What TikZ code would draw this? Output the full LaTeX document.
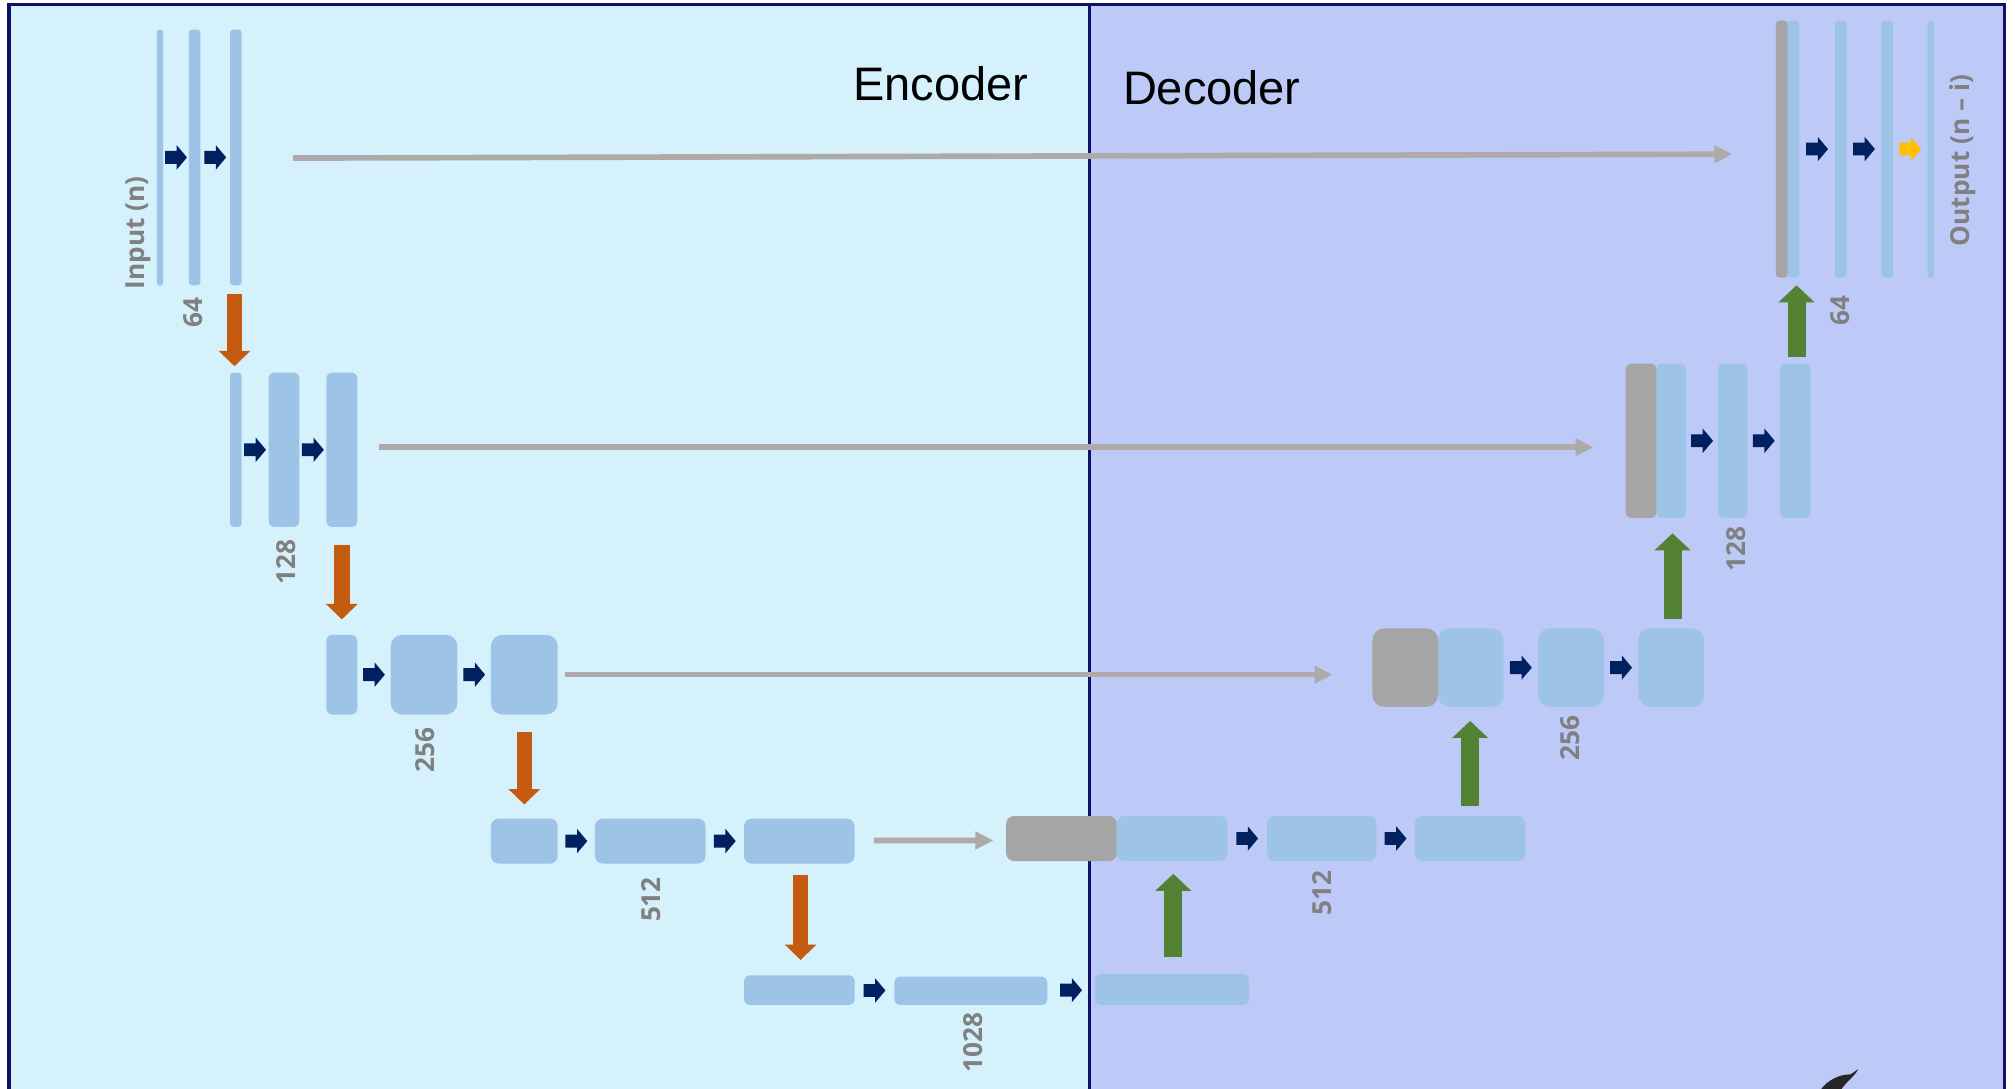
\documentclass[tikz,border=0pt]{standalone}
\usepackage{fontspec}
\setmainfont{Liberation Sans}
\newfontfamily\lblfont{Open Sans}
\usetikzlibrary{calc,fit,arrows.meta}

\definecolor{encbg}{RGB}{213,241,251}
\definecolor{decbg}{RGB}{189,202,248}
\definecolor{frame}{RGB}{16,16,104}
\definecolor{blockblue}{RGB}{157,195,230}
\definecolor{blockgray}{RGB}{165,165,165}
\definecolor{navyarr}{RGB}{0,32,96}
\definecolor{yelarr}{RGB}{255,192,0}
\definecolor{downarr}{RGB}{197,90,17}
\definecolor{uparr}{RGB}{84,130,53}
\definecolor{skipgray}{RGB}{174,170,170}
\definecolor{lblgray}{RGB}{128,128,128}

\tikzset{
  blk/.style={fill=blockblue, draw=none, inner sep=0pt, outer sep=0pt},
  gblk/.style={fill=blockgray, draw=none, inner sep=0pt, outer sep=0pt},
  skiparrow/.style={draw=skipgray, line width=0.11cm, -{Triangle[width=0.33cm,length=0.35cm]}},
  poolarrow/.style={draw=downarr, line width=0.3cm, -{Triangle[width=0.6cm,length=0.3cm]}},
  uparrow/.style={draw=uparr, line width=0.35cm, -{Triangle[width=0.68cm,length=0.33cm]}},
  sizelbl/.style={text=lblgray, font=\lblfont\bfseries\fontsize{14.5pt}{16pt}\selectfont, rotate=90, inner sep=0pt},
  parttitle/.style={text=black, font=\fontsize{26pt}{30pt}\selectfont, inner sep=0pt}
}

% small block arrow between two neighbouring blocks
\newcommand\convarrow[3]{%
  \fill[#3] ($(#1.east)!0.5!(#2.west)$) ++(-8.5,-5) -- ++(9,0) -- ++(0,-4.5)
    -- ++(8,9.5) -- ++(-8,9.5) -- ++(0,-4.5) -- ++(-9,0) -- cycle;}

\begin{document}
\begin{tikzpicture}[x=0.025cm, y=-0.025cm]
\useasboundingbox (0,0) rectangle (1568,847);
\clip (0,0) rectangle (1568,847);
\fill[white] (0,0) rectangle (1568,847);

% panels
\fill[encbg] (7,3.5) rectangle (847.5,860);
\fill[decbg] (847.5,3.5) rectangle (1560,860);
\draw[frame, line width=0.06cm] (847.5,3.5) -- (847.5,860);
\draw[frame, line width=0.06cm] (7,860) -- (7,3.5) -- (1560,3.5) -- (1560,860);

\node[parttitle] (enctitle) at (732,65) {Encoder};
\node[parttitle] (dectitle) at (943,68) {Decoder};

% ---------------- encoder ----------------
% level 1 (64)
\node[blk, rounded corners=1.5*0.025cm, fit={(122,23)(127,222)}] (e1a) {};
\node[blk, rounded corners=2.5*0.025cm, fit={(147,23)(156,222)}] (e1b) {};
\node[blk, rounded corners=2.5*0.025cm, fit={(179,23)(188,222)}] (e1c) {};
% level 2 (128)
\node[blk, rounded corners=2.5*0.025cm, fit={(179,290)(188,410)}] (e2a) {};
\node[blk, rounded corners=4*0.025cm, fit={(209,290)(233,410)}] (e2b) {};
\node[blk, rounded corners=4*0.025cm, fit={(254,290)(278,410)}] (e2c) {};
% level 3 (256)
\node[blk, rounded corners=4*0.025cm, fit={(254,494)(278,556)}] (e3a) {};
\node[blk, rounded corners=9*0.025cm, fit={(304,494)(356,556)}] (e3b) {};
\node[blk, rounded corners=9*0.025cm, fit={(382,494)(434,556)}] (e3c) {};
% level 4 (512)
\node[blk, rounded corners=6*0.025cm, fit={(382,637)(434,672)}] (e4a) {};
\node[blk, rounded corners=6*0.025cm, fit={(463,637)(549,672)}] (e4b) {};
\node[blk, rounded corners=6*0.025cm, fit={(579,637)(665,672)}] (e4c) {};
% level 5 (1028)
\node[blk, rounded corners=4*0.025cm, fit={(579,759)(665,782)}] (e5a) {};
\node[blk, rounded corners=4*0.025cm, fit={(696,760)(815,782)}] (e5b) {};

% ---------------- decoder ----------------
\node[blk, rounded corners=4*0.025cm, fit={(852,758)(972,782)}] (d5a) {};
% level 4
\node[blk, rounded corners=6*0.025cm, fit={(869,635)(955,670)}] (d4b) {};
\node[gblk, rounded corners=6*0.025cm, fit={(783,635)(869,670)}] (d4g) {};
\node[blk, rounded corners=6*0.025cm, fit={(986,635)(1071,670)}] (d4c) {};
\node[blk, rounded corners=6*0.025cm, fit={(1101,635)(1187,670)}] (d4d) {};
% level 3
\node[blk, rounded corners=9*0.025cm, fit={(1119,489)(1170,550)}] (d3b) {};
\node[gblk, rounded corners=9*0.025cm, fit={(1068,489)(1119,550)}] (d3g) {};
\node[blk, rounded corners=9*0.025cm, fit={(1197,489)(1248,550)}] (d3c) {};
\node[blk, rounded corners=9*0.025cm, fit={(1275,489)(1326,550)}] (d3d) {};
% level 2
\node[blk, rounded corners=4*0.025cm, fit={(1289,283)(1312,403)}] (d2b) {};
\node[gblk, rounded corners=4*0.025cm, fit={(1265,283)(1289,403)}] (d2g) {};
\node[blk, rounded corners=4*0.025cm, fit={(1337,283)(1360,403)}] (d2c) {};
\node[blk, rounded corners=4*0.025cm, fit={(1385,283)(1409,403)}] (d2d) {};
% level 1
\node[blk, rounded corners=2.5*0.025cm, fit={(1391,16)(1400,216)}] (d1b) {};
\node[gblk, rounded corners=2.5*0.025cm, fit={(1382,16)(1391,216)}] (d1g) {};
\node[blk, rounded corners=2.5*0.025cm, fit={(1428,16)(1437,216)}] (d1c) {};
\node[blk, rounded corners=2.5*0.025cm, fit={(1464,16)(1473,216)}] (d1d) {};
\node[blk, rounded corners=1.5*0.025cm, fit={(1500,16)(1505,216)}] (d1e) {};

% convolution arrows
\convarrow{e1a}{e1b}{navyarr}
\convarrow{e1b}{e1c}{navyarr}
\convarrow{e2a}{e2b}{navyarr}
\convarrow{e2b}{e2c}{navyarr}
\convarrow{e3a}{e3b}{navyarr}
\convarrow{e3b}{e3c}{navyarr}
\convarrow{e4a}{e4b}{navyarr}
\convarrow{e4b}{e4c}{navyarr}
\convarrow{e5a}{e5b}{navyarr}
\convarrow{e5b}{d5a}{navyarr}
\convarrow{d4b}{d4c}{navyarr}
\convarrow{d4c}{d4d}{navyarr}
\convarrow{d3b}{d3c}{navyarr}
\convarrow{d3c}{d3d}{navyarr}
\convarrow{d2b}{d2c}{navyarr}
\convarrow{d2c}{d2d}{navyarr}
\convarrow{d1b}{d1c}{navyarr}
\convarrow{d1c}{d1d}{navyarr}
\convarrow{d1d}{d1e}{yelarr}

% skip connections
\draw[skiparrow] ($(e1c.east)+(40,0.5)$) -- ($(d1g.west)+(-34,4)$);
\draw[skiparrow] ($(e2c.east)+(17,-2)$) -- ($(d2g.west)+(-25,5)$);
\draw[skiparrow] ($(e3c.east)+(6,0)$) -- ($(d3g.west)+(-31,5.5)$);
\draw[skiparrow] ($(e4c.east)+(15,-0.5)$) -- ($(d4g.west)+(-10,1.5)$);

% down-sampling
\draw[poolarrow] ($(e1c.south)+(-1,7)$) -- ($(e1c.south |- e2a.north)+(-1,-5)$);
\draw[poolarrow] ($(e2c.south)+(0,14)$) -- ($(e2c.south |- e3a.north)+(0,-12)$);
\draw[poolarrow] ($(e3c.south)+(0,14)$) -- ($(e3c.south |- e4a.north)+(0,-11)$);
\draw[poolarrow] ($(e4c.south)+(1,9)$) -- ($(e4c.south |- e5a.north)+(1,-12)$);

% up-sampling
\draw[uparrow] ($(d5a.north)+(1,-13)$) -- ($(d5a.north |- d4b.south)+(1,10)$);
\draw[uparrow] ($(d4d.north)+(0,-8)$) -- ($(d4d.north |- d3b.south)+(0,11)$);
\draw[uparrow] ($(d3d.north)+(1,-7)$) -- ($(d3d.north |- d2b.south)+(1,12)$);
\draw[uparrow] ($(d2d.north)+(1,-5)$) -- ($(d2d.north |- d1b.south)+(1,6)$);

% labels
\node[sizelbl] (inlbl) at (108,181) {Input (n)};
\node[sizelbl] (outlbl) at (1527,125) {Output (n – i)};
\node[sizelbl] (l64e) at (150,243) {64};
\node[sizelbl] (l128e) at (223,437) {128};
\node[sizelbl] (l256e) at (331,584) {256};
\node[sizelbl] (l512e) at (507,700) {512};
\node[sizelbl] (l1028) at (757,811) {1028};
\node[sizelbl] (l512d) at (1029,695) {512};
\node[sizelbl] (l256d) at (1222,574) {256};
\node[sizelbl] (l128d) at (1351,427) {128};
\node[sizelbl] (l64d) at (1432,242) {64};

% corner mark
\fill[black!85] (1416,849) .. controls (1422,840) and (1432,836) .. (1440,836)
  -- (1446,832) .. controls (1443,838) and (1437,841) .. (1432,849) -- cycle;
\end{tikzpicture}
\end{document}
